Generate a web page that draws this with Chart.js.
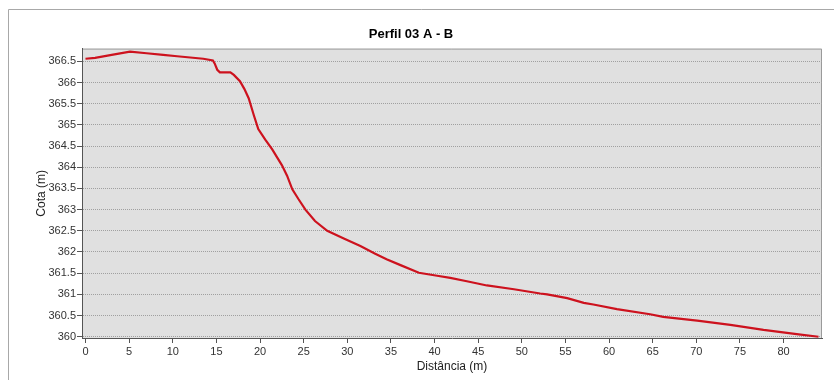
<!DOCTYPE html>
<html>
<head>
<meta charset="utf-8">
<script src="https://cdn.jsdelivr.net/npm/chart.js@4.4.1/dist/chart.umd.min.js"></script>
<style>
  html, body { margin: 0; padding: 0; background: #fff; }
  #wrap { width: 834px; height: 380px; position: relative; }
</style>
</head>
<body>
<div id="wrap"><canvas id="perfil"></canvas></div>
<script>
// Distância (m) and Cota (m)
const distancia = [
    0, 1.1, 3.0, 5.1, 7.0, 8.9, 10.5, 12.0, 13.5, 14.6,
    14.8, 15.1, 15.4, 16.6, 17.0, 17.7, 18.2, 18.7, 19.3, 19.8,
    20.6, 21.4, 22.5, 23.1, 23.7, 24.4, 25.2, 26.3, 27.7, 29.6,
    31.5, 33.2, 34.5, 36.1, 38.2, 40.3, 41.8, 43.7, 46.0, 49.1,
    52.1, 52.9, 55.2, 57.1, 58.2, 60.9, 64.7, 66.2, 70.1, 73.9,
    77.7, 81.5, 84.0
];
const cota = [
    366.56, 366.58, 366.65, 366.73, 366.69, 366.65, 366.62, 366.59, 366.56, 366.52,
    366.45, 366.30, 366.24, 366.24, 366.18, 366.03, 365.85, 365.63, 365.22, 364.90,
    364.65, 364.42, 364.05, 363.80, 363.48, 363.25, 363.00, 362.73, 362.50, 362.32,
    362.14, 361.96, 361.83, 361.69, 361.51, 361.44, 361.39, 361.31, 361.21, 361.12,
    361.02, 361.00, 360.91, 360.80, 360.76, 360.65, 360.53, 360.47, 360.38, 360.28,
    360.16, 360.06, 360.00
];

const xRange = [-0.4, 84.4];
const yRange = [359.97, 366.8];

const points = distancia.map((d, i) => ({ x: d, y: cota[i] }));

// grey plot background, light top/right border, and the outer frame
const frame = {
    id: 'frame',
    beforeDraw(chart) {
        const { ctx, chartArea: a } = chart;
        ctx.save();
        ctx.fillStyle = '#e0e0e0';
        ctx.fillRect(a.left, a.top, a.right - a.left, a.bottom - a.top);
        ctx.strokeStyle = '#a8a8a8';
        ctx.lineWidth = 1;
        ctx.beginPath();
        ctx.moveTo(8.5, 380);
        ctx.lineTo(8.5, 9.5);
        ctx.lineTo(834, 9.5);
        ctx.stroke();
        ctx.strokeStyle = '#9a9a9a';
        ctx.beginPath();
        ctx.moveTo(a.left, a.top + 0.5);
        ctx.lineTo(a.right - 0.5, a.top + 0.5);
        ctx.lineTo(a.right - 0.5, a.bottom);
        ctx.stroke();
        ctx.restore();
    }
};

Chart.defaults.font.family = '"Liberation Sans", Arial, sans-serif';

new Chart(document.getElementById('perfil'), {
    type: 'line',
    data: {
        datasets: [{
            data: points,
            borderColor: 'rgb(205, 18, 30)',
            borderWidth: 2.2,
            pointRadius: 0,
            tension: 0,
            fill: false
        }]
    },
    options: {
        responsive: true,
        maintainAspectRatio: false,
        animation: false,
        layout: { padding: { top: 8, left: 0, right: 12, bottom: 0 } },
        plugins: {
            legend: { display: false },
            tooltip: { enabled: false },
            title: {
                display: true,
                text: 'Perfil 03 A - B',
                color: '#000',
                font: { size: 13, weight: 'bold' },
                padding: { top: 19, bottom: 6 }
            }
        },
        scales: {
            x: {
                type: 'linear',
                min: xRange[0],
                max: xRange[1],
                afterFit(scale) { scale.height = 42; },
                ticks: {
                    stepSize: 5,
                    includeBounds: false,
                    color: '#333',
                    font: { size: 11 },
                    padding: 2,
                    maxRotation: 0
                },
                grid: {
                    drawOnChartArea: false,
                    drawTicks: true,
                    tickLength: 5,
                    tickColor: '#555'
                },
                border: { color: '#555', width: 1 },
                title: {
                    display: true,
                    text: 'Distância (m)',
                    color: '#222',
                    font: { size: 12 },
                    padding: { top: 0, bottom: 6 }
                }
            },
            y: {
                min: yRange[0],
                max: yRange[1],
                afterFit(scale) { scale.width = 82; },
                ticks: {
                    stepSize: 0.5,
                    includeBounds: false,
                    color: '#333',
                    font: { size: 11 },
                    padding: 1,
                    callback: v => String(v)
                },
                grid: {
                    color: '#a0a0a0',
                    tickLength: 5,
                    tickColor: '#555',
                    tickBorderDash: []
                },
                border: { color: '#555', width: 1, dash: [1, 1] },
                title: {
                    display: true,
                    text: 'Cota (m)',
                    color: '#222',
                    font: { size: 12 },
                    padding: { top: 34, bottom: 0 }
                }
            }
        }
    },
    plugins: [frame]
});
</script>
</body>
</html>
